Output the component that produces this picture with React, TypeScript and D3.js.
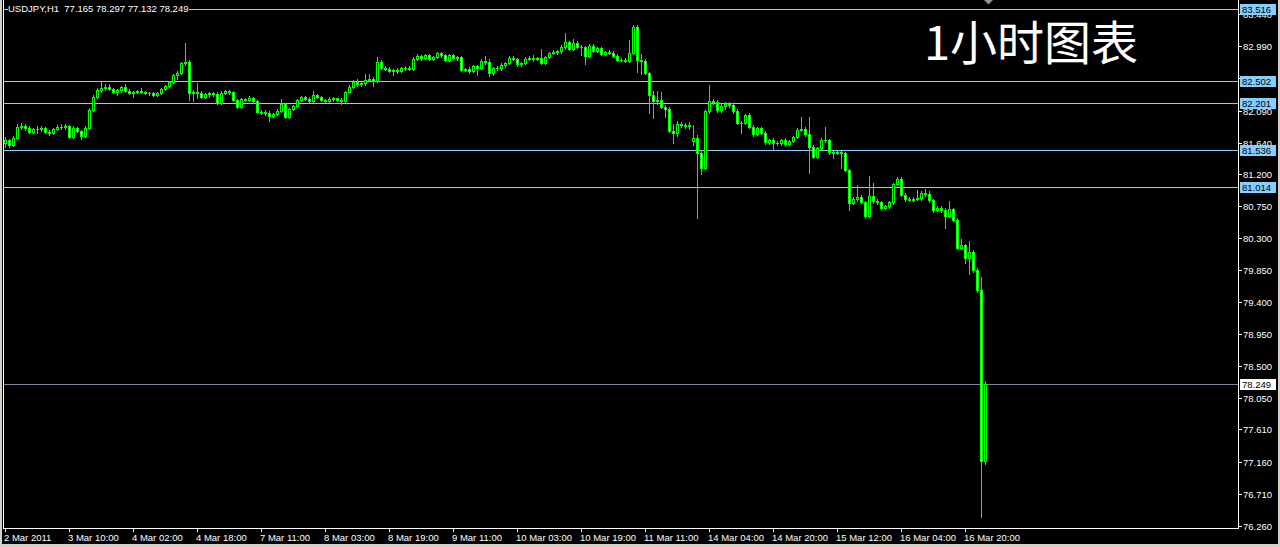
import React from 'react';
import * as d3 from 'd3';

const symbolHeader = 'USDJPY,H1  77.165 78.297 77.132 78.249';
const titleText = '1小时图表';

const opens = [
81.63,81.68,81.61,81.70,81.86,81.87,81.84,81.79,81.83,81.83,
81.84,81.79,81.77,81.83,81.86,81.86,81.87,81.72,81.84,81.80,
81.73,81.84,82.10,82.28,82.38,82.41,82.42,82.39,82.35,82.38,
82.42,82.36,82.34,82.35,82.36,82.35,82.34,82.34,82.31,82.34,
82.39,82.43,82.49,82.59,82.62,82.76,82.77,82.34,82.35,82.34,
82.28,82.32,82.34,82.32,82.20,82.34,82.36,82.35,82.24,82.14,
82.25,82.24,82.27,82.22,82.07,82.07,82.06,82.01,82.04,82.08,
82.18,82.00,82.11,82.15,82.24,82.28,82.25,82.22,82.31,82.28,
82.24,82.22,82.25,82.26,82.24,82.22,82.35,82.42,82.49,82.46,
82.48,82.52,82.53,82.50,82.77,82.69,82.67,82.64,82.66,82.64,
82.69,82.69,82.67,82.81,82.86,82.83,82.87,82.81,82.84,82.90,
82.87,82.80,82.87,82.83,82.84,82.66,82.67,82.64,82.72,82.69,
82.79,82.77,82.62,82.69,82.69,82.73,82.76,82.83,82.81,82.74,
82.76,82.81,82.83,82.81,82.83,82.76,82.84,82.90,82.91,82.93,
82.98,83.05,82.95,83.04,82.98,82.98,82.86,83.00,82.93,82.97,
82.88,82.91,82.90,82.86,82.80,82.80,82.79,82.90,83.26,82.80,
82.79,82.62,82.31,82.22,82.24,82.14,82.11,81.80,81.77,81.90,
81.89,81.87,81.66,81.70,81.49,81.28,82.08,82.22,82.21,82.10,
82.15,82.18,82.17,82.08,81.92,81.92,82.03,81.86,81.76,81.84,
81.77,81.65,81.68,81.63,81.63,81.68,81.62,81.66,81.72,81.82,
81.83,81.76,81.58,81.44,81.56,81.68,81.68,81.51,81.49,81.51,
81.49,81.25,80.79,80.85,80.87,80.80,80.61,80.89,80.82,80.80,
80.72,80.75,80.80,81.06,81.13,80.90,80.85,80.83,80.85,80.86,
80.93,80.92,80.83,80.69,80.72,80.69,80.61,80.71,80.55,80.16,
80.20,80.02,80.10,79.85,79.57,77.165];

const highs = [
81.72,81.69,81.73,81.90,81.92,81.90,81.87,81.84,81.87,81.87,
81.86,81.82,81.84,81.89,81.90,81.90,81.89,81.87,81.86,81.82,
81.87,82.13,82.31,82.41,82.49,82.46,82.46,82.41,82.39,82.43,
82.46,82.39,82.36,82.38,82.41,82.36,82.35,82.35,82.35,82.41,
82.45,82.50,82.60,82.64,82.77,83.04,82.80,82.38,82.48,82.36,
82.34,82.35,82.35,82.35,82.36,82.38,82.38,82.36,82.25,82.27,
82.27,82.29,82.28,82.24,82.10,82.10,82.08,82.06,82.11,82.25,
82.20,82.13,82.17,82.25,82.29,82.29,82.28,82.36,82.32,82.29,
82.25,82.28,82.28,82.27,82.27,82.36,82.45,82.52,82.53,82.49,
82.60,82.60,82.56,82.84,82.80,82.72,82.70,82.67,82.69,82.70,
82.72,82.72,82.84,82.88,82.87,82.88,82.88,82.86,82.91,82.91,
82.88,82.88,82.88,82.86,82.86,82.69,82.70,82.73,82.73,82.81,
82.86,82.81,82.70,82.72,82.76,82.77,82.86,82.86,82.83,82.77,
82.84,82.86,82.87,82.84,82.95,82.86,82.91,82.94,82.94,83.01,
83.18,83.07,83.09,83.07,83.01,83.00,83.02,83.02,82.98,82.98,
82.93,82.94,82.93,82.88,82.83,82.83,83.08,83.29,83.29,82.88,
82.81,82.63,82.36,82.36,82.35,82.17,82.14,81.90,81.94,81.93,
81.92,81.93,81.89,81.75,81.54,82.10,82.45,82.25,82.24,82.18,
82.21,82.21,82.18,82.11,81.94,82.04,82.06,81.89,81.86,81.86,
81.80,81.69,81.70,81.66,81.69,81.70,81.68,81.73,81.84,82.00,
81.86,82.00,81.61,81.58,81.70,81.86,81.69,81.52,81.54,81.52,
81.51,81.27,80.87,81.04,80.90,80.82,81.17,81.07,80.85,80.82,
80.76,80.82,81.07,81.16,81.16,80.93,80.87,80.87,80.97,80.96,
80.99,80.96,80.85,80.75,80.75,80.72,80.82,80.72,80.58,80.29,
80.22,80.26,80.13,79.88,79.75,78.297];

const lows = [
81.58,81.58,81.59,81.69,81.83,81.82,81.77,81.77,81.77,81.80,
81.77,81.75,81.76,81.82,81.83,81.83,81.70,81.70,81.79,81.69,
81.72,81.83,82.08,82.27,82.35,82.38,82.38,82.34,82.31,82.35,
82.35,82.32,82.28,82.34,82.34,82.32,82.31,82.29,82.29,82.32,
82.38,82.42,82.48,82.53,82.60,82.73,82.24,82.22,82.27,82.27,
82.27,82.28,82.29,82.18,82.18,82.32,82.32,82.22,82.13,82.13,
82.22,82.22,82.20,82.06,82.04,82.03,81.94,82.00,82.03,82.07,
81.99,81.99,82.10,82.14,82.22,82.24,82.21,82.21,82.27,82.22,
82.21,82.21,82.22,82.22,82.18,82.21,82.34,82.41,82.43,82.43,
82.45,82.50,82.43,82.49,82.67,82.66,82.63,82.59,82.62,82.63,
82.66,82.66,82.66,82.80,82.80,82.81,82.80,82.80,82.83,82.84,
82.79,82.79,82.81,82.80,82.64,82.64,82.62,82.63,82.59,82.67,
82.74,82.57,82.59,82.66,82.66,82.70,82.74,82.80,82.72,82.72,
82.74,82.80,82.79,82.80,82.74,82.74,82.83,82.88,82.88,82.90,
82.95,82.94,82.94,82.97,82.87,82.74,82.84,82.91,82.91,82.87,
82.87,82.88,82.84,82.79,82.79,82.77,82.77,82.88,82.63,82.60,
82.60,82.06,81.99,82.18,82.13,82.00,81.79,81.63,81.73,81.86,
81.84,81.83,81.61,80.58,81.20,81.27,82.06,82.18,82.07,82.07,
82.11,82.14,82.06,81.90,81.77,81.90,81.84,81.73,81.75,81.76,
81.62,81.62,81.54,81.61,81.61,81.59,81.61,81.65,81.70,81.80,
81.73,81.21,81.42,81.42,81.55,81.65,81.48,81.42,81.48,81.28,
81.24,80.69,80.78,80.82,80.79,80.58,80.59,80.79,80.78,80.69,
80.71,80.72,80.78,81.04,80.89,80.82,80.82,80.82,80.83,80.83,
80.89,80.80,80.66,80.68,80.66,80.44,80.59,80.54,80.14,80.14,
79.95,79.79,79.82,79.54,76.38,77.132];

const closes = [
81.68,81.61,81.70,81.86,81.87,81.84,81.79,81.83,81.83,81.84,
81.79,81.77,81.83,81.86,81.86,81.87,81.72,81.84,81.80,81.73,
81.84,82.10,82.28,82.38,82.41,82.42,82.39,82.35,82.38,82.42,
82.36,82.34,82.35,82.36,82.35,82.34,82.34,82.31,82.34,82.39,
82.43,82.49,82.59,82.62,82.76,82.77,82.34,82.35,82.34,82.28,
82.32,82.34,82.32,82.20,82.34,82.36,82.35,82.24,82.14,82.25,
82.24,82.27,82.22,82.07,82.06,82.06,82.01,82.04,82.08,82.18,
82.00,82.11,82.15,82.24,82.28,82.25,82.22,82.31,82.28,82.24,
82.22,82.25,82.26,82.24,82.22,82.35,82.42,82.49,82.46,82.48,
82.52,82.53,82.50,82.77,82.69,82.67,82.64,82.66,82.64,82.69,
82.69,82.67,82.81,82.86,82.83,82.87,82.81,82.84,82.90,82.87,
82.80,82.87,82.83,82.84,82.66,82.67,82.64,82.72,82.69,82.79,
82.77,82.62,82.69,82.69,82.73,82.76,82.83,82.81,82.74,82.76,
82.81,82.83,82.81,82.83,82.76,82.84,82.90,82.91,82.93,82.98,
83.05,82.95,83.04,82.98,82.98,82.86,83.00,82.93,82.97,82.88,
82.91,82.90,82.86,82.80,82.80,82.79,82.90,83.26,82.80,82.79,
82.62,82.31,82.22,82.24,82.14,82.11,81.80,81.77,81.90,81.89,
81.87,81.89,81.70,81.49,81.28,82.08,82.22,82.21,82.10,82.15,
82.18,82.17,82.08,81.92,81.92,82.03,81.86,81.76,81.84,81.77,
81.65,81.68,81.63,81.63,81.68,81.62,81.66,81.72,81.82,81.83,
81.76,81.58,81.44,81.56,81.68,81.68,81.51,81.49,81.51,81.49,
81.25,80.79,80.85,80.87,80.80,80.61,80.89,80.82,80.80,80.72,
80.75,80.80,81.06,81.13,80.90,80.85,80.83,80.85,80.86,80.93,
80.92,80.83,80.69,80.72,80.69,80.61,80.71,80.55,80.16,80.20,
80.02,80.10,79.85,79.57,77.165,78.249];

const timeLabels = ['2 Mar 2011', '3 Mar 10:00', '4 Mar 02:00', '4 Mar 18:00', '7 Mar 11:00', '8 Mar 03:00', '8 Mar 19:00', '9 Mar 11:00', '10 Mar 03:00', '10 Mar 19:00', '11 Mar 11:00', '14 Mar 04:00', '14 Mar 20:00', '15 Mar 12:00', '16 Mar 04:00', '16 Mar 20:00'];
const timeLabelBars = [0, 16, 32, 48, 64, 80, 96, 112, 128, 144, 160, 176, 192, 208, 224, 240];

const priceTicks = [83.44, 82.99, 82.54, 82.09, 81.64, 81.2, 80.75, 80.3, 79.85, 79.4, 78.95, 78.5, 78.05, 77.61, 77.16, 76.71, 76.26];
const horizontalLines = [83.516, 82.502, 82.201, 81.536, 81.014];
const bidPrice = 78.249;

const LIME = '#00ff00';
const HLINE = '#87cefa';
const BID = '#7a8a9a';
const FONT = "'Liberation Sans', Arial, sans-serif";

export default function App() {
  const W = 1280, H = 547;
  const plotRight = 1238;
  const plotBottom = 528;
  const x = d3.scaleLinear().domain([0, 245]).range([5, 985]);
  const y = d3.scaleLinear().domain([78.249, 83.516]).range([384, 9]);

  return (
    <svg width={W} height={H} style={{ position: 'absolute', left: 0, top: 0, display: 'block' }} fontFamily={FONT}>
      <rect x={0} y={0} width={W} height={H} fill="#d4d0c8" />
      <rect x={2} y={0} width={W - 4} height={H - 3} fill="#000" />

      {/* frame */}
      <line x1={3.5} y1={0} x2={3.5} y2={plotBottom} stroke="#fff" strokeWidth={1} />
      <line x1={plotRight + 0.5} y1={0} x2={plotRight + 0.5} y2={plotBottom + 0.5} stroke="#fff" strokeWidth={1} />
      <line x1={3} y1={plotBottom + 0.5} x2={plotRight + 1} y2={plotBottom + 0.5} stroke="#fff" strokeWidth={1} />

      {/* price ticks */}
      {priceTicks.map((v, i) => {
        const yy = Math.round(y(v));
        return (
          <g key={'pt' + i}>
            <line x1={plotRight + 1} x2={plotRight + 4} y1={yy + 0.5} y2={yy + 0.5} stroke="#fff" />
            <text x={plotRight + 5} y={yy + 4} fill="#fff" fontSize={9.5}>{v.toFixed(3)}</text>
          </g>
        );
      })}

      {/* horizontal lines */}
      {horizontalLines.map((v, i) => {
        const yy = Math.round(y(v));
        return <line key={'hl' + i} x1={4} x2={plotRight} y1={yy + 0.5} y2={yy + 0.5} stroke={HLINE} strokeWidth={1} />;
      })}
      <line x1={4} x2={plotRight} y1={Math.round(y(bidPrice)) + 0.5} y2={Math.round(y(bidPrice)) + 0.5} stroke={BID} strokeWidth={1} />

      {/* candles */}
      {closes.map((c, i) => {
        const o = opens[i], h = highs[i], l = lows[i];
        const xc = Math.round(x(i));
        const yH = Math.round(y(h)), yL = Math.round(y(l));
        const yO = Math.round(y(o)), yC = Math.round(y(c));
        const top = Math.min(yO, yC), bot = Math.max(yO, yC);
        const bull = c > o;
        return (
          <g key={'c' + i}>
            <rect x={xc} y={yH} width={1} height={yL - yH + 1} fill={LIME} />
            <rect x={xc - 1} y={top} width={3} height={bot - top + 1} fill={LIME} />
            {bot - top >= 2 && (
              <rect x={xc} y={top + 1} width={1} height={bot - top - 1} fill={bull ? '#000' : '#fff'} />
            )}
          </g>
        );
      })}

      {/* price labels of lines */}
      {horizontalLines.map((v, i) => {
        const yy = Math.round(y(v));
        return (
          <g key={'hb' + i}>
            <rect x={plotRight + 2} y={yy - 5} width={36} height={11} fill={HLINE} />
            <text x={plotRight + 4} y={yy + 4} fill="#000" fontSize={9.5}>{v.toFixed(3)}</text>
          </g>
        );
      })}
      <g>
        <rect x={plotRight + 2} y={Math.round(y(bidPrice)) - 5} width={36} height={11} fill="#fff" />
        <text x={plotRight + 4} y={Math.round(y(bidPrice)) + 4} fill="#000" fontSize={9.5}>{bidPrice.toFixed(3)}</text>
      </g>

      {/* time axis */}
      {timeLabels.map((t, i) => {
        const xx = Math.round(x(timeLabelBars[i]));
        return (
          <g key={'tl' + i}>
            <line x1={xx + 0.5} x2={xx + 0.5} y1={plotBottom} y2={plotBottom + 4} stroke="#fff" />
            <text x={xx - 1} y={plotBottom + 13} fill="#fff" fontSize={9.5}>{t}</text>
          </g>
        );
      })}

      {/* header */}
      <rect x={8} y={3} width={181} height={12} fill="#000" />
      <text x={8} y={12} fill="#fff" fontSize={9.5} style={{ whiteSpace: 'pre' }}>{symbolHeader}</text>

      {/* shift marker */}
      <polygon points="984,0 993,0 988.5,4.5" fill="#8a96a3" />

      {/* title */}
      <text x={924} y={60} fill="#fff" fontSize={47} fontFamily="'Noto Sans CJK SC', sans-serif">{titleText}</text>
    </svg>
  );
}
